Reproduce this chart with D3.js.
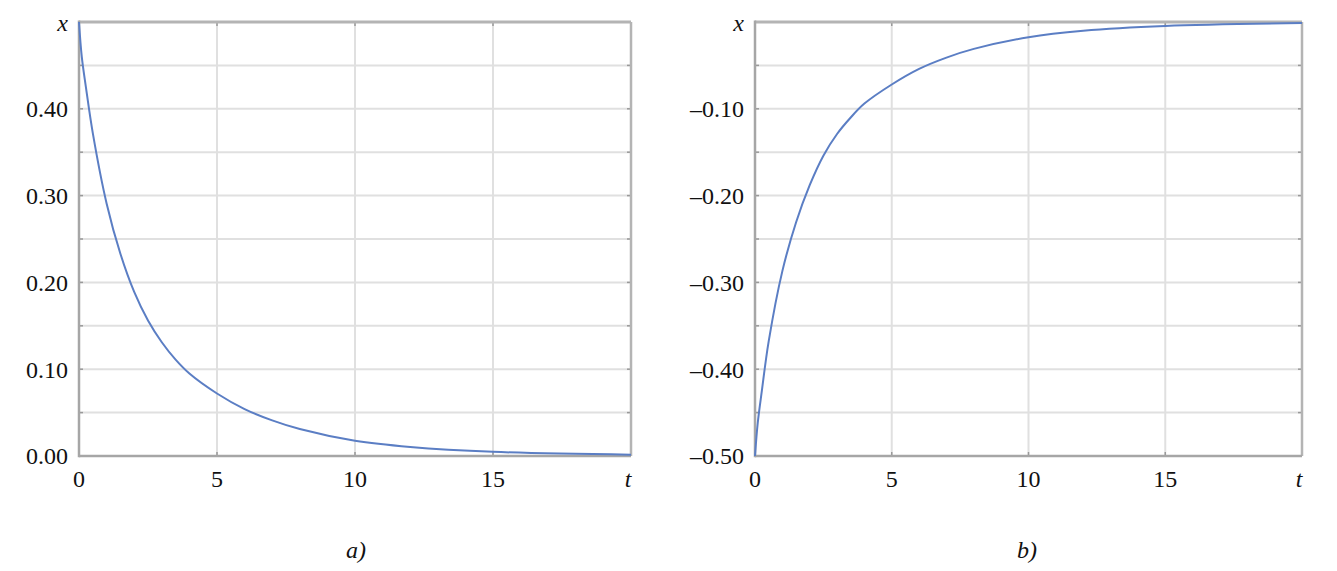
<!DOCTYPE html>
<html><head><meta charset="utf-8">
<script src="https://cdn.jsdelivr.net/npm/d3@7"></script>
<style>
html,body{margin:0;padding:0;background:#fff;}
</style></head>
<body><svg id="c" width="1337" height="571"></svg>
<script>
// ---- data ----
const tA = [0, 0.1, 0.25, 0.5, 1.0, 1.5, 2.0, 2.5, 3.0, 3.5, 4.0, 5, 6, 7, 8, 10, 12, 15, 20];
const xA = [0.5, 0.46, 0.425, 0.372, 0.291, 0.233, 0.189, 0.156, 0.131, 0.111, 0.095, 0.072, 0.054, 0.041, 0.031, 0.0175, 0.0104, 0.0048, 0.0015];
const tB = [0, 0.1, 0.25, 0.5, 1.0, 1.5, 2.0, 2.5, 3.0, 3.5, 4.0, 5, 6, 7, 8, 10, 12, 15, 20];
const xB = [-0.5, -0.462, -0.425, -0.368, -0.287, -0.231, -0.188, -0.154, -0.129, -0.110, -0.094, -0.072, -0.054, -0.041, -0.031, -0.0175, -0.0100, -0.0045, -0.0012];
const xTicksLabel = ["0", "5", "10", "15"];
const xTickVals = [0, 5, 10, 15];
const yTicksA = [0, 0.1, 0.2, 0.3, 0.4];
const yTicksB = [-0.5, -0.4, -0.3, -0.2, -0.1];
const gridA = [0.05, 0.1, 0.15, 0.2, 0.25, 0.3, 0.35, 0.4, 0.45];
const gridB = [-0.45, -0.4, -0.35, -0.3, -0.25, -0.2, -0.15, -0.1, -0.05];
const captions = ["a)", "b)"];

const FONT = "'Liberation Serif', 'Times New Roman', 'DejaVu Serif', serif";
const svg = d3.select("#c");

function panel(cfg) {
  const x = d3.scaleLinear().domain([0, 20]).range([cfg.x0, cfg.x1]);
  const y = d3.scaleLinear().domain(cfg.ydom).range([cfg.y1, cfg.y0]);
  const g = svg.append("g").attr("font-family", FONT).attr("fill", "#111");
  // grid
  g.selectAll(".hg").data(cfg.grid).join("line")
    .attr("x1", cfg.x0).attr("x2", cfg.x1)
    .attr("y1", d => y(d)).attr("y2", d => y(d))
    .attr("stroke", "#e0e0e0").attr("stroke-width", 2);
  g.selectAll(".vg").data([5, 10, 15]).join("line")
    .attr("x1", d => x(d)).attr("x2", d => x(d))
    .attr("y1", cfg.y0).attr("y2", cfg.y1)
    .attr("stroke", "#e0e0e0").attr("stroke-width", 2);
  // small inner ticks
  g.selectAll(".tl").data(cfg.grid).join("line")
    .attr("x1", cfg.x0).attr("x2", cfg.x0 + 4)
    .attr("y1", d => y(d)).attr("y2", d => y(d))
    .attr("stroke", "#999").attr("stroke-width", 1.5);
  g.selectAll(".tr").data(cfg.grid).join("line")
    .attr("x1", cfg.x1 - 4).attr("x2", cfg.x1)
    .attr("y1", d => y(d)).attr("y2", d => y(d))
    .attr("stroke", "#999").attr("stroke-width", 1.5);
  g.selectAll(".tt").data([5, 10, 15]).join("line")
    .attr("x1", d => x(d)).attr("x2", d => x(d))
    .attr("y1", cfg.y0).attr("y2", cfg.y0 + 4)
    .attr("stroke", "#999").attr("stroke-width", 1.5);
  g.selectAll(".tb").data([5, 10, 15]).join("line")
    .attr("x1", d => x(d)).attr("x2", d => x(d))
    .attr("y1", cfg.y1 - 4).attr("y2", cfg.y1)
    .attr("stroke", "#999").attr("stroke-width", 1.5);
  // frame
  g.append("line").attr("x1", cfg.x0).attr("x2", cfg.x1).attr("y1", cfg.y0).attr("y2", cfg.y0)
    .attr("stroke", "#b4b4b4").attr("stroke-width", 3);
  g.append("line").attr("x1", cfg.x1).attr("x2", cfg.x1).attr("y1", cfg.y0).attr("y2", cfg.y1)
    .attr("stroke", "#b4b4b4").attr("stroke-width", 2.5);
  g.append("line").attr("x1", cfg.x0).attr("x2", cfg.x1).attr("y1", cfg.y1).attr("y2", cfg.y1)
    .attr("stroke", "#a6a6a6").attr("stroke-width", 2.5);
  g.append("line").attr("x1", cfg.x0).attr("x2", cfg.x0).attr("y1", cfg.y0 - 1.5).attr("y2", cfg.y1 + 1.2)
    .attr("stroke", "#a6a6a6").attr("stroke-width", 2.5);
  // curve
  const data = cfg.t.map((t, i) => [t, cfg.v[i]]);
  g.append("path").datum(data)
    .attr("fill", "none").attr("stroke", "#5b7ec4").attr("stroke-width", 2)
    .attr("d", d3.line().x(d => x(d[0])).y(d => y(d[1])).curve(d3.curveCatmullRom.alpha(0.5)));
  // y labels
  g.selectAll(".yl").data(cfg.yticks).join("text")
    .attr("x", cfg.x0 - 11).attr("y", d => y(d)).attr("dy", "0.35em")
    .attr("text-anchor", "end").attr("font-size", 24)
    .text(d => (d < 0 ? "\u2013" : "") + Math.abs(d).toFixed(2));
  g.append("text").attr("x", cfg.x0 - 11).attr("y", y(cfg.ydom[1]) + 1).attr("dy", "0.35em")
    .attr("text-anchor", "end").attr("font-size", 24).attr("font-style", "italic").text("x");
  // x labels
  g.selectAll(".xl").data(xTickVals).join("text")
    .attr("x", d => x(d)).attr("y", cfg.y1 + 31)
    .attr("text-anchor", "middle").attr("font-size", 24)
    .text((d, i) => xTicksLabel[i]);
  g.append("text").attr("x", x(20) - 3).attr("y", cfg.y1 + 31)
    .attr("text-anchor", "middle").attr("font-size", 24).attr("font-style", "italic").text("t");
  g.append("text").attr("x", cfg.capX).attr("y", 558)
    .attr("text-anchor", "middle").attr("font-size", 24).attr("font-style", "italic").text(cfg.cap);
}

panel({x0: 79, x1: 631, y0: 22, y1: 456, ydom: [0, 0.5], t: tA, v: xA, yticks: yTicksA, grid: gridA, cap: captions[0], capX: 356});
panel({x0: 755, x1: 1302, y0: 22, y1: 456, ydom: [-0.5, 0], t: tB, v: xB, yticks: yTicksB, grid: gridB, cap: captions[1], capX: 1027});
</script></body></html>
